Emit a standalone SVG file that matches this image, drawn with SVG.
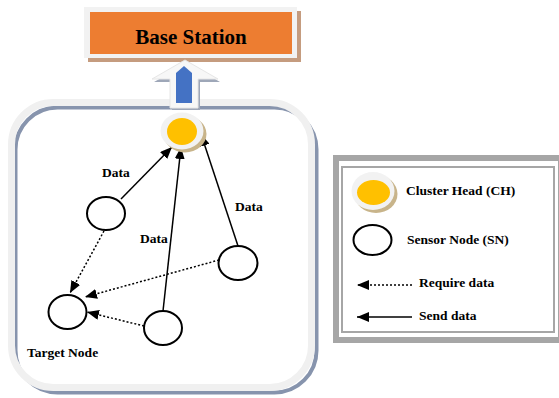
<svg xmlns="http://www.w3.org/2000/svg" width="559" height="398" viewBox="0 0 559 398">
<style>
.t{font-family:"Liberation Serif","Times New Roman",serif;font-weight:bold;font-size:13.5px;fill:#000}
.sn{fill:#fff;stroke:#000;stroke-width:2}
.snd{fill:none;stroke:#000;stroke-width:1.5}
.req{fill:none;stroke:#000;stroke-width:1.5;stroke-dasharray:2 2}
</style>
<defs>
<marker id="ah" markerUnits="userSpaceOnUse" markerWidth="12" markerHeight="10" refX="12" refY="5" orient="auto">
<path d="M0,0 L12,5 L0,10 Z" fill="#000"/>
</marker>
</defs>
<rect width="559" height="398" fill="#fff"/>

<g id="container">
<rect x="15.5" y="107.5" width="301" height="285" rx="42" fill="none" stroke="#8794ad" stroke-width="4"/>
<rect x="11.5" y="102.5" width="300" height="285" rx="42" fill="none" stroke="#f0f0f0" stroke-width="7"/>
</g>

<g id="base-station">
<rect x="88" y="11" width="213" height="51" fill="#c59c7f"/>
<rect x="84" y="7" width="213" height="51" fill="#f2f2f2"/>
<rect x="90" y="12" width="202" height="42" fill="#ed7d31"/>
<text x="191" y="44" text-anchor="middle" style="font-family:'Liberation Serif','Times New Roman',serif;font-weight:bold;font-size:21px">Base Station</text>
</g>

<g id="uplink-arrow">
<polygon points="188,63 220,82 200,82 200,110 172,110 172,82 154,82" fill="#9ea7b8"/>
<polygon points="185,60 218,79 198,79 198,108 170,108 170,79 152,79" fill="#f7f7f7" stroke="#e6e6e6" stroke-width="1"/>
<path d="M176,103 L176,73 L184,66 L192,73 L192,103 Z" fill="#4472c4"/>
</g>

<g id="connectors">
<line x1="121" y1="199" x2="172" y2="147" class="snd" marker-end="url(#ah)"/>
<line x1="163" y1="311" x2="181" y2="147" class="snd" marker-end="url(#ah)"/>
<line x1="238" y1="246" x2="201" y2="134" class="snd" marker-end="url(#ah)"/>
<line x1="104" y1="231" x2="70" y2="293" class="req" marker-end="url(#ah)"/>
<line x1="219" y1="260" x2="85" y2="297" class="req" marker-end="url(#ah)"/>
<line x1="144" y1="326" x2="87" y2="312" class="req" marker-end="url(#ah)"/>
</g>

<g id="cluster-head">
<ellipse cx="185" cy="134" rx="21.5" ry="18.5" fill="#c8b48a"/>
<ellipse cx="182" cy="131" rx="21.5" ry="18.5" fill="#f2f2f2"/>
<ellipse cx="182" cy="131.5" rx="15" ry="13.5" fill="#ffc000"/>
</g>

<g id="node-a"><ellipse cx="106" cy="213.5" rx="19" ry="16.5" class="sn"/></g>
<g id="node-b"><ellipse cx="238" cy="263" rx="19.5" ry="17" class="sn"/></g>
<g id="node-c"><ellipse cx="163" cy="328" rx="19" ry="17" class="sn"/></g>
<g id="target-node"><ellipse cx="67.5" cy="312" rx="19" ry="17" class="sn"/></g>

<g id="labels">
<text x="102" y="177" class="t">Data</text>
<text x="235" y="210.5" class="t">Data</text>
<text x="140" y="242.5" class="t">Data</text>
<text x="27" y="357" class="t">Target Node</text>
</g>

<g id="legend">
<rect x="336" y="158" width="225" height="182" fill="#fff" stroke="#a6a6a6" stroke-width="6"/>
<rect x="342" y="167" width="212" height="165" fill="none" stroke="#a6a6a6" stroke-width="2"/>
<ellipse cx="376" cy="194" rx="21.5" ry="19" fill="#c8b48a"/>
<ellipse cx="373" cy="191" rx="21.5" ry="19" fill="#f2f2f2"/>
<ellipse cx="373.5" cy="192.5" rx="16.5" ry="12.5" fill="#ffc000"/>
<text x="406" y="195" class="t">Cluster Head (CH)</text>
<ellipse cx="372.5" cy="240" rx="19" ry="15" class="sn"/>
<text x="407" y="244" class="t">Sensor Node (SN)</text>
<line x1="412" y1="285" x2="357" y2="285" class="req" marker-end="url(#ah)"/>
<text x="419" y="287" class="t">Require data</text>
<line x1="412" y1="317" x2="357" y2="317" class="snd" marker-end="url(#ah)"/>
<text x="419" y="320" class="t">Send data</text>
</g>
</svg>
